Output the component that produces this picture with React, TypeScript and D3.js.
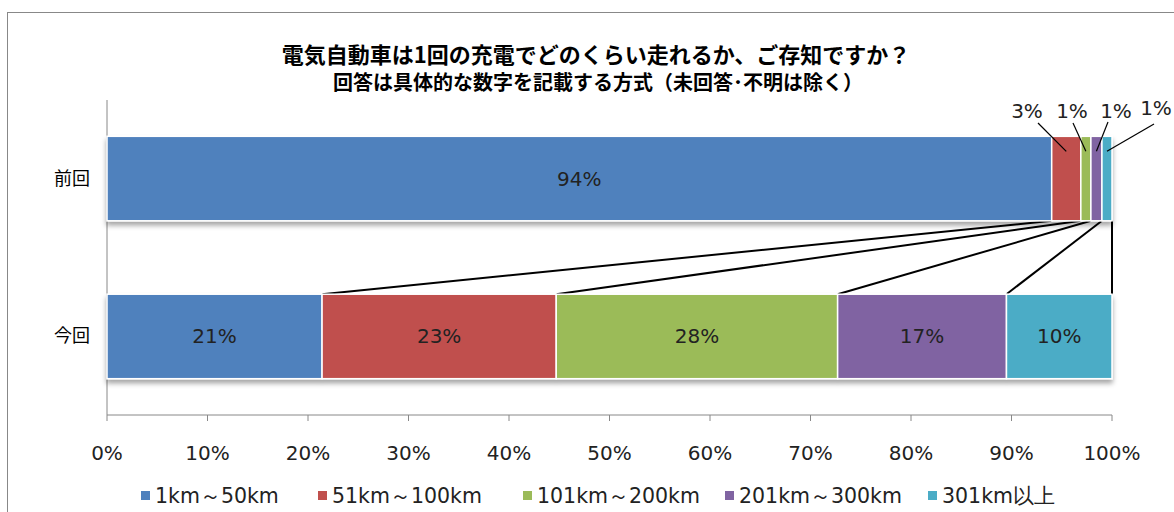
import React from "react";
import * as d3 from "d3";

const categories = ["前回", "今回"];
const seriesNames = ["1km～50km", "51km～100km", "101km～200km", "201km～300km", "301km以上"];
const prevValues = [94.0, 2.9, 1.0, 1.1, 1.0];
const currValues = [21.4, 23.3, 28.0, 16.8, 10.5];
const prevLabels = ["94%", "3%", "1%", "1%", "1%"];
const currLabels = ["21%", "23%", "28%", "17%", "10%"];
const tickValues = [0, 10, 20, 30, 40, 50, 60, 70, 80, 90, 100];
const colors = ["#4F81BD", "#C0504D", "#9BBB59", "#8064A2", "#4BACC6"];

const W = 1174;
const H = 512;
const FONT = "'DejaVu Sans', Verdana, sans-serif";
const JFONT = "'Noto Sans CJK JP', sans-serif";

export default function App() {
  const x = d3.scaleLinear().domain([0, 100]).range([107, 1112]);
  const y = d3.scaleBand().domain(categories).range([100, 415]).paddingInner(0.465).paddingOuter(0.23);

  const stack = (vals: number[]) => {
    let c = 0;
    return vals.map((v) => {
      const s = c;
      c += v;
      return [s, c];
    });
  };
  const rows = [stack(prevValues), stack(currValues)];
  const labels = [prevLabels, currLabels];
  const bw = y.bandwidth();
  const y0 = y(categories[0])!;
  const y1 = y(categories[1])!;

  const callouts = [
    null,
    { tx: 1027, ty: 118, lx: 1038, ly: 123 },
    { tx: 1072, ty: 118, lx: 1073, ly: 123 },
    { tx: 1116, ty: 118, lx: 1108, ly: 122 },
    { tx: 1156, ty: 115, lx: 1154, ly: 124 },
  ];

  const legendX = [141, 318, 523, 725, 928];

  return (
    <svg width={W} height={H} style={{ position: "absolute", left: 0, top: 0 }}>
      <defs>
        <filter id="sh" x="-5%" y="-20%" width="110%" height="160%">
          <feDropShadow dx="0" dy="4" stdDeviation="2.5" floodColor="#000" floodOpacity="0.35" />
        </filter>
      </defs>
      <rect x={0} y={0} width={W} height={H} fill="#fff" />
      <rect x={7.5} y={12.5} width={1180} height={520} fill="#fff" stroke="#888" strokeWidth={1} />

      <text x={596} y={63} textAnchor="middle" fontFamily={JFONT} fontWeight="bold" fontSize={22} fill="#000">
        電気自動車は1回の充電でどのくらい走れるか、ご存知ですか？
      </text>
      <text x={598} y={90} textAnchor="middle" fontFamily={JFONT} fontWeight="bold" fontSize={20} fill="#000">
        回答は具体的な数字を記載する方式（未回答･不明は除く）
      </text>

      {/* axes */}
      <line x1={107} x2={107} y1={100} y2={415} stroke="#888" strokeWidth={1} />
      <line x1={107} x2={1112} y1={415} y2={415} stroke="#888" strokeWidth={1} />
      {tickValues.map((t) => (
        <g key={t}>
          <line x1={x(t)} x2={x(t)} y1={415} y2={421} stroke="#888" />
          <text x={x(t)} y={460} textAnchor="middle" fontFamily={FONT} fontSize={20} fill="#222">
            {t}%
          </text>
        </g>
      ))}

      {/* category labels */}
      {categories.map((c) => (
        <text key={c} x={72} y={y(c)! + bw / 2 + 6} textAnchor="middle" fontFamily={JFONT} fontSize={18} fill="#000">
          {c}
        </text>
      ))}

      {/* series lines */}
      {rows[0].map((seg, i) => (
        <line key={"sl" + i} x1={x(seg[1])} y1={y0 + bw} x2={x(rows[1][i][1])} y2={y1} stroke="#000" strokeWidth={2} />
      ))}

      {/* bars */}
      {rows.map((row, r) => (
        <g key={r} filter="url(#sh)">
          {row.map((seg, i) => (
            <rect
              key={i}
              x={x(seg[0])}
              y={y(categories[r])!}
              width={x(seg[1]) - x(seg[0])}
              height={bw}
              fill={colors[i]}
              stroke="#fff"
              strokeWidth={1.5}
            />
          ))}
        </g>
      ))}

      {/* inside labels */}
      {rows.map((row, r) =>
        row.map((seg, i) => {
          if (r === 0 && i > 0) return null;
          return (
            <text
              key={"l" + r + i}
              x={(x(seg[0]) + x(seg[1])) / 2}
              y={y(categories[r])! + bw / 2 + 7}
              textAnchor="middle"
              fontFamily={FONT}
              fontSize={20}
              fill="#222"
            >
              {labels[r][i]}
            </text>
          );
        })
      )}

      {/* callouts */}
      {rows[0].map((seg, i) => {
        const c = callouts[i];
        if (!c) return null;
        const cx = (x(seg[0]) + x(seg[1])) / 2;
        return (
          <g key={"c" + i}>
            <line x1={c.lx} y1={c.ly} x2={cx} y2={y0 + 15} stroke="#000" strokeWidth={1.2} />
            <text x={c.tx} y={c.ty} textAnchor="middle" fontFamily={FONT} fontSize={20} fill="#222">
              {prevLabels[i]}
            </text>
          </g>
        );
      })}

      {/* legend */}
      {seriesNames.map((n, i) => (
        <g key={n}>
          <rect x={legendX[i]} y={491} width={9} height={9} fill={colors[i]} />
          <text x={legendX[i] + 14} y={503} fontFamily={FONT} fontSize={20.5} fill="#222">
            {n}
          </text>
        </g>
      ))}
    </svg>
  );
}
